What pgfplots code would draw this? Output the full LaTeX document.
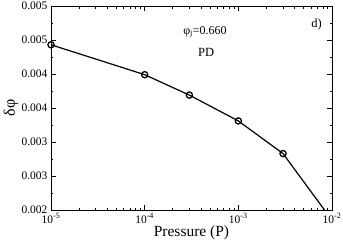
\documentclass[border=0pt]{standalone}
\usepackage{fontspec}
\setmainfont{Liberation Serif}
\usepackage{pgfplots}
\pgfplotsset{compat=1.18}
\begin{document}
\begin{tikzpicture}
\begin{axis}[
  scale only axis, width=281pt, height=204pt,
  xmode=log, xmin=1e-5, xmax=1e-2, ymin=0.002, ymax=0.005,
  xtick={1e-5,1e-4,1e-3,1e-2},
  xticklabels={10\textsuperscript{-5},10\textsuperscript{-4},10\textsuperscript{-3},10\textsuperscript{-2}},
  minor xtick={2e-5,3e-5,4e-5,5e-5,6e-5,7e-5,8e-5,9e-5,2e-4,3e-4,4e-4,5e-4,6e-4,7e-4,8e-4,9e-4,2e-3,3e-3,4e-3,5e-3,6e-3,7e-3,8e-3,9e-3},
  ytick={0.002,0.0025,0.003,0.0035,0.004,0.0045,0.005},
  yticklabels={0.002,0.003,0.003,0.004,0.004,0.005,0.005},
  minor ytick={0.00225,0.00275,0.00325,0.00375,0.00425,0.00475},
  tick align=inside,
  major tick length=5pt, minor tick length=2.5pt,
  tick style={black, line width=0.8pt},
  axis line style={line width=0.9pt},
  tick label style={font=\fontsize{11.5}{12}\selectfont},
  yticklabel style={inner ysep=0pt},
  xlabel={Pressure (P)},
  ylabel={δφ},
  every axis x label/.style={at={(axis description cs:0.5,-0.132)}, anchor=base, font=\fontsize{15.5}{16}\selectfont},
  every axis y label/.style={at={(axis description cs:-0.142,0.5)}, rotate=90, anchor=center, font=\fontsize{16}{17}\selectfont},
  clip=true,
]
\addplot[black, line width=1.2pt, no marks] coordinates {
  (1e-5,0.00443) (1e-4,0.00399) (3e-4,0.00369) (1e-3,0.00331) (3e-3,0.00283) (1e-2,0.00185)
};
\addplot[black, only marks, mark=o, mark size=3.1pt, line width=1.3pt] coordinates {
  (1e-5,0.00443) (1e-4,0.00399) (3e-4,0.00369) (1e-3,0.00331) (3e-3,0.00283)
};
\node[anchor=base, font=\fontsize{12}{13}\selectfont] at (rel axis cs:0.548,0.862) {φ\textsubscript{j}=0.660};
\node[anchor=base, font=\fontsize{12.5}{13}\selectfont] at (rel axis cs:0.552,0.753) {PD};
\node[anchor=base, font=\fontsize{12.5}{13}\selectfont] at (rel axis cs:0.945,0.893) {d)};
\end{axis}
\pgfresetboundingbox
\path (current axis.south west) ++(-51pt,-34pt) rectangle ([shift={(11pt,6pt)}]current axis.north east);
\end{tikzpicture}
\end{document}
